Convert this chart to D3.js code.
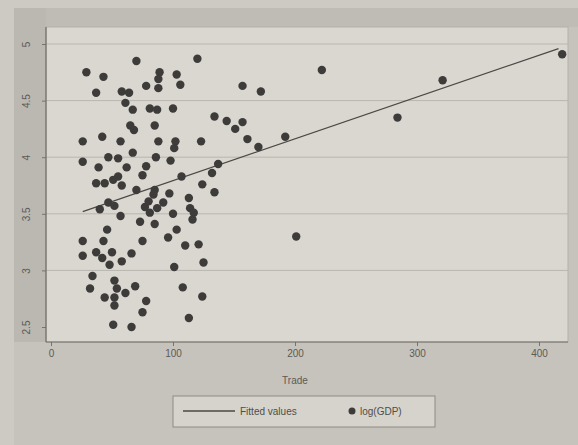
<!DOCTYPE html>
<html>
<head>
<meta charset="utf-8">
<script src="https://cdn.jsdelivr.net/npm/d3@7"></script>
<style>
  html, body { margin: 0; padding: 0; background: #cdcac3; }
  svg { display: block; font-family: "Liberation Sans", Arial, sans-serif; }
</style>
</head>
<body>
<div id="chart"></div>
<script>
// Trade (x) and log(GDP) (y)
const trade = [29, 43, 70, 120, 89, 103, 88, 78, 88, 106, 37, 58, 64, 157, 172, 222, 321, 419,
  61, 67, 81, 87, 100, 134, 144, 151, 157, 65, 68, 85, 161, 192, 284, 170,
  26, 42, 57, 88, 102, 101, 123, 67, 26, 39, 47, 55, 62, 78, 86, 98, 137, 75, 107, 132,
  37, 44, 51, 55, 58, 70, 85, 97, 124, 134, 113, 47, 40, 52, 57, 73, 77, 80, 84, 81, 87,
  85, 92, 100, 114, 117, 116, 103, 96, 110, 121, 125, 75, 101, 46, 26, 43, 37, 50, 26,
  42, 48, 58, 66, 34, 32, 52, 54, 61, 69, 44, 52, 52, 78, 75, 108, 124, 113, 51, 66, 201];
const logGDP = [4.75, 4.71, 4.85, 4.87, 4.75, 4.73, 4.69, 4.63, 4.61, 4.64, 4.57, 4.58, 4.57, 4.63, 4.58, 4.77, 4.68, 4.91,
  4.48, 4.42, 4.43, 4.42, 4.43, 4.36, 4.32, 4.25, 4.31, 4.28, 4.24, 4.28, 4.16, 4.18, 4.35, 4.09,
  4.14, 4.18, 4.14, 4.14, 4.14, 4.08, 4.14, 4.04, 3.96, 3.91, 4.00, 3.99, 3.91, 3.92, 4.00, 3.97, 3.94, 3.84, 3.83, 3.86,
  3.77, 3.77, 3.80, 3.83, 3.75, 3.71, 3.71, 3.68, 3.76, 3.69, 3.64, 3.60, 3.54, 3.57, 3.48, 3.43, 3.56, 3.61, 3.67, 3.51, 3.55,
  3.41, 3.60, 3.50, 3.55, 3.51, 3.45, 3.36, 3.29, 3.22, 3.23, 3.07, 3.26, 3.03, 3.36, 3.26, 3.26, 3.16, 3.16, 3.13,
  3.11, 3.05, 3.08, 3.15, 2.95, 2.84, 2.91, 2.84, 2.80, 2.86, 2.76, 2.76, 2.69, 2.73, 2.63, 2.85, 2.77, 2.58, 2.52, 2.50, 3.30];

// fitted line end points
const fitTrade = [26, 416];
const fitGDP = [3.52, 4.96];

const xTicks = [0, 100, 200, 300, 400];
const yTicks = [2.5, 3, 3.5, 4, 4.5, 5];
const legendLabels = ['Fitted values', 'log(GDP)'];

const width = 578, height = 445;

const svg = d3.select('#chart').append('svg')
  .attr('width', width)
  .attr('height', height);

const x = d3.scaleLinear().domain([0, 400]).range([51, 539]);
const y = d3.scaleLinear().domain([2.5, 5]).range([327, 44]);

const plotL = 46, plotT = 27, plotR = 568, plotB = 342;

// graph region
svg.append('rect')
  .attr('x', 14).attr('y', 8)
  .attr('width', width - 14).attr('height', height - 8)
  .attr('fill', '#c6c3bc');
svg.append('rect')
  .attr('x', 14).attr('y', 8)
  .attr('width', plotL - 14).attr('height', plotB - 8)
  .attr('fill', '#bbb8b1');
svg.append('rect')
  .attr('x', plotL).attr('y', 8)
  .attr('width', plotR - plotL + 10).attr('height', plotT - 8)
  .attr('fill', '#bfbcb5');

// plot region
svg.append('rect')
  .attr('x', plotL).attr('y', plotT)
  .attr('width', plotR - plotL).attr('height', plotB - plotT)
  .attr('fill', '#dad7d0')
  .attr('stroke', '#b3b0a9');

const g = svg.append('g');

// grid lines
g.selectAll('.grid')
  .data(yTicks.slice(1))
  .enter()
  .append('line')
    .attr('x1', plotL).attr('x2', plotR)
    .attr('y1', d => y(d)).attr('y2', d => y(d))
    .attr('stroke', '#b9b6af')
    .attr('stroke-width', 1);

// y axis
const yAxis = g.append('g')
  .attr('transform', 'translate(' + plotL + ',0)')
  .call(d3.axisLeft(y).tickValues(yTicks).tickSize(4).tickFormat(d3.format('')));
yAxis.select('.domain').remove();
yAxis.selectAll('.tick line').attr('stroke', '#77746f');
yAxis.selectAll('.tick text')
  .attr('fill', '#5c5a56')
  .style('font-size', '10px')
  .attr('transform', 'rotate(-90)')
  .attr('x', 0).attr('y', -12)
  .attr('dy', '0')
  .attr('text-anchor', 'middle');
// fix rotated positions
yAxis.selectAll('.tick text')
  .attr('transform', null)
  .each(function() {
    d3.select(this)
      .attr('transform', 'translate(-20,0) rotate(-90)')
      .attr('x', 0).attr('y', 0).attr('dy', '0.35em');
  });

// x axis
const xAxis = g.append('g')
  .attr('transform', 'translate(0,' + plotB + ')')
  .call(d3.axisBottom(x).tickValues(xTicks).tickSize(4));
xAxis.select('.domain').remove();
xAxis.selectAll('.tick line').attr('stroke', '#77746f');
xAxis.selectAll('.tick text')
  .attr('fill', '#5c5a56')
  .style('font-size', '10px')
  .attr('y', 8);

// axis lines
g.append('line')
  .attr('x1', plotL).attr('x2', plotL)
  .attr('y1', plotT).attr('y2', plotB)
  .attr('stroke', '#6f6c67').attr('stroke-width', 1.2);
g.append('line')
  .attr('x1', plotL).attr('x2', plotR)
  .attr('y1', plotB).attr('y2', plotB)
  .attr('stroke', '#6f6c67').attr('stroke-width', 1.2);

// axis title
g.append('text')
  .attr('x', x(200)).attr('y', 384)
  .attr('text-anchor', 'middle')
  .attr('fill', '#5c5a56')
  .style('font-size', '10px')
  .text('Trade');

// fitted line
const fit = fitTrade.map((t, i) => [t, fitGDP[i]]);
g.append('path')
  .datum(fit)
  .attr('d', d3.line().x(d => x(d[0])).y(d => y(d[1])))
  .attr('fill', 'none')
  .attr('stroke', '#4b4946')
  .attr('stroke-width', 1.3);

// points
const pts = trade.map((t, i) => ({ t: t, v: logGDP[i] }));
g.selectAll('.pt')
  .data(pts)
  .enter()
  .append('circle')
    .attr('class', 'pt')
    .attr('cx', d => x(d.t))
    .attr('cy', d => y(d.v))
    .attr('r', 4.2)
    .attr('fill', '#3d3c3a');

// legend
const lg = svg.append('g').attr('transform', 'translate(173,396)');
lg.append('rect')
  .attr('width', 262).attr('height', 31)
  .attr('fill', '#d6d3cc')
  .attr('stroke', '#8d8a84');
lg.append('line')
  .attr('x1', 10).attr('x2', 62)
  .attr('y1', 15).attr('y2', 15)
  .attr('stroke', '#4b4946').attr('stroke-width', 1.3);
lg.append('text')
  .attr('x', 67).attr('y', 19)
  .attr('fill', '#4f4d49')
  .style('font-size', '10px')
  .text(legendLabels[0]);
lg.append('circle')
  .attr('cx', 179).attr('cy', 15).attr('r', 3.5)
  .attr('fill', '#3d3c3a');
lg.append('text')
  .attr('x', 187).attr('y', 19)
  .attr('fill', '#4f4d49')
  .style('font-size', '10px')
  .text(legendLabels[1]);
</script>
</body>
</html>
